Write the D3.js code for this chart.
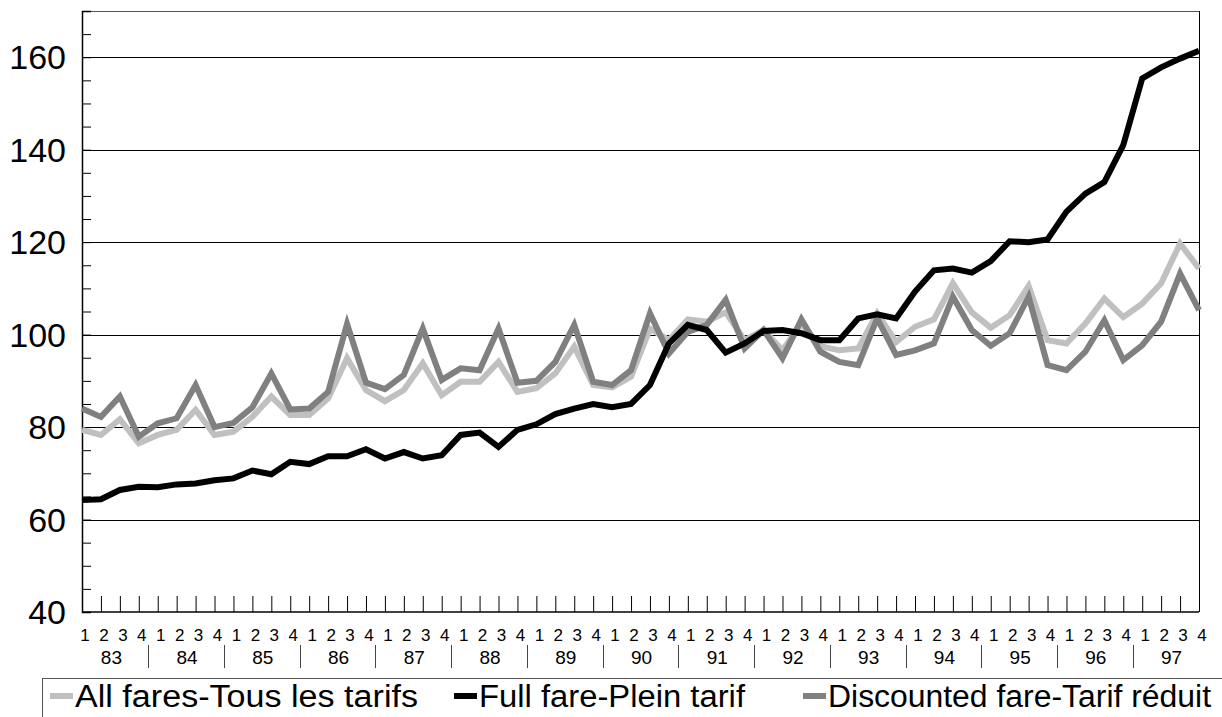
<!DOCTYPE html>
<html>
<head>
<meta charset="utf-8">
<script src="https://cdnjs.cloudflare.com/ajax/libs/d3/7.8.5/d3.min.js"></script>
<style>
  body { margin: 0; background: #fff; }
  svg { font-family: "Liberation Sans", Arial, sans-serif; }
</style>
</head>
<body>
<div id="chart"></div>
<script>
'use strict';

// quarters 1983Q1 .. 1997Q4
var years = ['83','84','85','86','87','88','89','90','91','92','93','94','95','96','97'];
var quarterLabels = ['1','2','3','4'];
var yTicks = [40, 60, 80, 100, 120, 140, 160];

var allFares = [
  79.4, 78.3, 81.7, 76.5,   78.3, 79.4, 83.7, 78.3,   79.0, 82.2, 86.6, 82.6,
  82.6, 86.2, 94.9, 88.0,   85.6, 88.0, 93.8, 86.9,   89.8, 89.8, 94.1, 87.6,
  88.4, 91.6, 97.4, 89.1,   88.6, 90.9, 101.3, 98.8,  103.3, 102.8, 104.8, 98.8,
  101.0, 96.6, 102.4, 97.5, 96.6, 97.0, 104.6, 98.4,  101.7, 103.3, 111.1, 104.8,
  101.5, 104.2, 110.5, 98.8, 98.1, 102.4, 107.8, 103.8, 106.7, 111.1, 119.7, 114.3
];
var fullFare = [
  64.2, 64.4, 66.4, 67.1,   67.0, 67.6, 67.8, 68.5,   68.9, 70.6, 69.8, 72.5,
  72.0, 73.7, 73.7, 75.2,   73.2, 74.6, 73.2, 73.9,   78.3, 78.8, 75.7, 79.4,
  80.6, 82.8, 84.0, 85.0,   84.3, 85.0, 89.1, 98.1,   102.1, 101.0, 96.1, 98.1,
  100.8, 101.0, 100.3, 98.8, 98.8, 103.5, 104.4, 103.5, 109.3, 113.9, 114.3, 113.4,
  115.9, 120.2, 120.0, 120.6, 126.6, 130.5, 133.0, 141.0, 155.4, 157.8, 159.7, 161.4
];
var discounted = [
  84.0, 82.2, 86.6, 77.9,   80.8, 81.9, 89.1, 80.0,   80.9, 84.3, 91.6, 83.8,
  84.0, 87.6, 102.3, 89.6,  88.2, 91.3, 101.3, 90.2,  92.7, 92.3, 101.3, 89.6,
  90.0, 94.1, 102.1, 89.8,  89.1, 92.3, 104.6, 95.9,  100.6, 102.1, 107.5, 97.0,
  101.0, 94.9, 103.3, 96.3, 94.1, 93.4, 103.5, 95.6,  96.6, 98.1, 108.2, 101.0,
  97.6, 100.3, 108.2, 93.4, 92.3, 96.3, 103.1, 94.5, 97.7, 102.8, 113.2, 105.3
];

var seriesNames = ['All fares-Tous les tarifs', 'Full fare-Plein tarif', 'Discounted fare-Tarif réduit'];
var seriesColors = ['#c0c0c0', '#000000', '#808080'];
var seriesData = [allFares, fullFare, discounted];

var width = 1222, height = 717;
var plotLeft = 82, plotRight = 1199, plotTop = 11, plotBottom = 612;

var svg = d3.select('#chart').append('svg')
    .attr('width', width)
    .attr('height', height);

var idx = d3.range(allFares.length);
var x = d3.scalePoint().domain(idx).range([plotLeft, plotRight]);
var y = d3.scaleLinear().domain([40, 170]).range([plotBottom, plotTop]);

// gridlines
svg.append('g')
  .selectAll('line')
  .data(yTicks.filter(function(d){ return d > 40; }))
  .enter().append('line')
    .attr('x1', plotLeft).attr('x2', plotRight)
    .attr('y1', function(d){ return Math.round(y(d)) + 0.5; })
    .attr('y2', function(d){ return Math.round(y(d)) + 0.5; })
    .attr('stroke', '#000')
    .attr('stroke-width', 1);

// frame top + right
svg.append('line').attr('x1', plotLeft).attr('x2', plotRight).attr('y1', plotTop + 0.5).attr('y2', plotTop + 0.5)
  .attr('stroke', '#555').attr('stroke-width', 1);
svg.append('line').attr('x1', plotRight + 0.5).attr('x2', plotRight + 0.5).attr('y1', plotTop).attr('y2', plotBottom)
  .attr('stroke', '#000').attr('stroke-width', 1);

// y axis with minor ticks pointing inward
var yAxis = d3.axisRight(y).tickValues(d3.range(40, 171, 5)).tickSize(9).tickFormat('');
var gy = svg.append('g').attr('transform', 'translate(' + plotLeft + ',0)').call(yAxis);
gy.select('.domain').attr('stroke', '#000').attr('stroke-width', 1.5);
gy.selectAll('.tick line').attr('stroke', '#000');

svg.append('g')
  .selectAll('text')
  .data(yTicks)
  .enter().append('text')
    .attr('x', 66)
    .attr('y', function(d){ return y(d); })
    .attr('dy', '0.36em')
    .attr('text-anchor', 'end')
    .style('font-size', '34px')
    .text(function(d){ return d; });

// x axis: ticks upward at every quarter
var xAxis = d3.axisTop(x).tickSize(16).tickFormat('');
var gx = svg.append('g').attr('transform', 'translate(0,' + plotBottom + ')').call(xAxis);
gx.select('.domain').remove();
gx.selectAll('.tick line').attr('stroke', '#000');
svg.append('line').attr('x1', plotLeft).attr('x2', plotRight).attr('y1', plotBottom).attr('y2', plotBottom)
  .attr('stroke', '#000').attr('stroke-width', 1.5);

// quarter labels
svg.append('g')
  .selectAll('text')
  .data(idx)
  .enter().append('text')
    .attr('x', function(d){ return x(d) + 3; })
    .attr('y', 641)
    .attr('text-anchor', 'middle')
    .style('font-size', '17px')
    .text(function(d){ return quarterLabels[d % 4]; });

// year labels and separators
var step = x.step();
svg.append('g')
  .selectAll('text')
  .data(years)
  .enter().append('text')
    .attr('x', function(d, i){ return x(i * 4) + 1.5 * step + 1; })
    .attr('y', 664)
    .attr('text-anchor', 'middle')
    .style('font-size', '19px')
    .text(function(d){ return d; });
svg.append('g')
  .selectAll('line')
  .data(years.slice(1))
  .enter().append('line')
    .attr('x1', function(d, i){ return Math.round(x((i + 1) * 4) - step / 2) + 0.5; })
    .attr('x2', function(d, i){ return Math.round(x((i + 1) * 4) - step / 2) + 0.5; })
    .attr('y1', 645).attr('y2', 668)
    .attr('stroke', '#444').attr('stroke-width', 1);

// lines
var line = d3.line()
    .x(function(d, i){ return x(i); })
    .y(function(d){ return y(d); });

[0, 2, 1].forEach(function(k){
  svg.append('path')
    .datum(seriesData[k])
    .attr('fill', 'none')
    .attr('stroke', seriesColors[k])
    .attr('stroke-width', 6)
    .attr('stroke-linejoin', 'miter')
    .attr('d', line);
});

// legend
svg.append('rect')
  .attr('x', 42.5).attr('y', 678.5)
  .attr('width', 1200).attr('height', 60)
  .attr('fill', 'none').attr('stroke', '#555').attr('stroke-width', 1);

var legendX = [50, 454, 803];
var legendLen = [343, 266, 383];
var lg = svg.append('g').selectAll('g')
  .data(seriesNames)
  .enter().append('g')
    .attr('transform', function(d, i){ return 'translate(' + legendX[i] + ',0)'; });
lg.append('line')
  .attr('x1', 0).attr('x2', 23).attr('y1', 696).attr('y2', 696)
  .attr('stroke', function(d, i){ return seriesColors[i]; })
  .attr('stroke-width', 6);
lg.append('text')
  .attr('x', 25).attr('y', 707)
  .attr('textLength', function(d, i){ return legendLen[i]; })
  .attr('lengthAdjust', 'spacingAndGlyphs')
  .style('font-size', '31px')
  .text(function(d){ return d; });
</script>
</body>
</html>
